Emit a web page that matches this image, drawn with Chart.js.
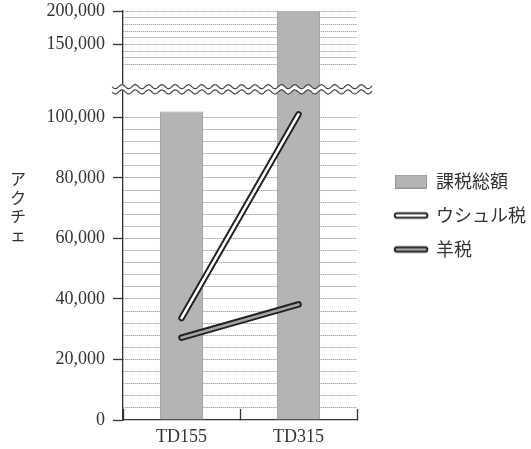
<!DOCTYPE html>
<html><head><meta charset="utf-8">
<script src="https://cdn.jsdelivr.net/npm/chart.js@4/dist/chart.umd.min.js"></script>
<style>html,body{margin:0;padding:0;background:#fff}canvas{display:block}</style>
</head><body>
<canvas id="c" width="531" height="449"></canvas>
<script>
// ---- data ----
const categories = ['TD155', 'TD315'];
const totalTax = [102000, 200000];   // 課税総額
const ushrTax = [33700, 101000];     // ウシュル税
const sheepTax = [27200, 38200];     // 羊税
const seriesNames = ['課税総額', 'ウシュル税', '羊税'];
const lowerTickLabels = [0, 20000, 40000, 60000, 80000, 100000];
const upperTickLabels = [150000, 200000];
const yTitle = 'アクチェ';

// ---- axis layout ----
const LOWER_MAX = 109300, UPPER_MIN = 82600, UPPER_MAX = 200000;
const LOWER_GRID_STEP = 4000, LOWER_GRID_END = 100000;
const UPPER_GRID_STEP = 10000, UPPER_GRID_START = 120000;

const SERIF = '"Liberation Serif", "DejaVu Serif", serif';
const CJK = '"Noto Sans CJK JP", sans-serif';
const INK = '#333';
const BAR_FILL = '#b4b4b4', BAR_EDGE = '#969696';
const SHEEP_INNER = '#a4a4a4';

function fmt(v) { return String(v).replace(/\B(?=(\d{3})+(?!\d))/g, ','); }
function range(a, b, s) { const r = []; for (let v = a; v <= b + 1e-6; v += s) r.push(v); return r; }

function lineSwatch(inner) {
  const c = document.createElement('canvas'); c.width = 38; c.height = 10;
  const g = c.getContext('2d'); g.lineCap = 'round';
  g.strokeStyle = '#222'; g.lineWidth = 6.5; g.beginPath(); g.moveTo(5, 5); g.lineTo(33, 5); g.stroke();
  g.strokeStyle = inner; g.lineWidth = 2.6; g.beginPath(); g.moveTo(5, 5); g.lineTo(33, 5); g.stroke();
  return c;
}
function barSwatch() {
  const c = document.createElement('canvas'); c.width = 32; c.height = 14;
  const g = c.getContext('2d'); g.fillStyle = BAR_FILL; g.fillRect(0, 0, 32, 14);
  g.strokeStyle = BAR_EDGE; g.lineWidth = 1; g.strokeRect(0.5, 0.5, 31, 13);
  return c;
}

// let the right-hand legend keep its natural width
const legendWidth = {
  id: 'legendWidth',
  beforeLayout(chart) {
    const lg = chart.legend;
    if (!lg || lg._wPatched) return;
    const orig = lg.fit.bind(lg);
    lg.fit = function () {
      orig();
      const pad = this.options.labels.padding;
      if (this.columnSizes && this.columnSizes.length) {
        this.width = pad + this.columnSizes.reduce((s, c) => s + c.width, 0) + 10;
      }
    };
    lg._wPatched = true;
  }
};

const clipBars = {
  id: 'clipBars',
  beforeDatasetDraw(chart, args) {
    if (args.meta.type !== 'bar') return;
    const a = chart.chartArea, ctx = chart.ctx;
    ctx.save(); ctx.beginPath(); ctx.rect(a.left, a.top, a.right - a.left, a.bottom - a.top); ctx.clip();
  },
  afterDatasetDraw(chart, args) {
    if (args.meta.type !== 'bar') return;
    chart.ctx.restore();
  }
};

const breakMark = {
  id: 'breakMark',
  afterDatasetsDraw(chart) {
    const ctx = chart.ctx, yb = chart.scales.y.top, a = chart.chartArea;
    const x0 = a.left - 11, x1 = a.right + 15, amp = 2, per = 13.3, gap = 2.6;
    const f = (x, off) => yb + off + amp * Math.sin((x - x0) / per * 2 * Math.PI);
    ctx.save();
    ctx.beginPath();
    for (let x = x0; x <= x1; x += 0.5) { const y = f(x, -gap); x === x0 ? ctx.moveTo(x, y) : ctx.lineTo(x, y); }
    for (let x = x1; x >= x0; x -= 0.5) ctx.lineTo(x, f(x, gap));
    ctx.closePath(); ctx.fillStyle = '#fff'; ctx.fill();
    ctx.strokeStyle = '#444'; ctx.lineWidth = 1.2;
    for (const off of [-gap, gap]) {
      ctx.beginPath();
      for (let x = x0; x <= x1; x += 0.5) { const y = f(x, off); x === x0 ? ctx.moveTo(x, y) : ctx.lineTo(x, y); }
      ctx.stroke();
    }
    ctx.restore();
  }
};

const verticalTitle = {
  id: 'verticalTitle',
  afterDraw(chart) {
    const ctx = chart.ctx;
    ctx.save();
    ctx.font = '16px ' + CJK; ctx.fillStyle = INK; ctx.textAlign = 'center'; ctx.textBaseline = 'middle';
    [...yTitle].forEach((ch, i) => ctx.fillText(ch, 18, 179 + i * 18.5));
    ctx.restore();
  }
};

const hidden = 'rgba(0,0,0,0)';
const tickFont = { family: SERIF, size: 18 };

new Chart(document.getElementById('c'), {
  type: 'bar',
  data: {
    labels: categories,
    datasets: [
      { type: 'line', label: seriesNames[1], data: ushrTax, yAxisID: 'y', borderColor: '#ffffff', borderWidth: 2.6,
        borderCapStyle: 'round', pointRadius: 0, fill: false, order: 0 },
      { type: 'line', label: seriesNames[2], data: sheepTax, yAxisID: 'y', borderColor: SHEEP_INNER, borderWidth: 2.6,
        borderCapStyle: 'round', pointRadius: 0, fill: false, order: 0 },
      { type: 'line', label: seriesNames[1] + ' outline', data: ushrTax, yAxisID: 'y', borderColor: '#222', borderWidth: 6.5,
        borderCapStyle: 'round', pointRadius: 0, fill: false, order: 1 },
      { type: 'line', label: seriesNames[2] + ' outline', data: sheepTax, yAxisID: 'y', borderColor: '#222', borderWidth: 6.5,
        borderCapStyle: 'round', pointRadius: 0, fill: false, order: 1 },
      { type: 'bar', label: seriesNames[0], data: totalTax, yAxisID: 'y', backgroundColor: BAR_FILL, borderColor: BAR_EDGE,
        borderWidth: 1, categoryPercentage: 1, barPercentage: 0.37, clip: false, order: 2 }
    ]
  },
  options: {
    responsive: false,
    animation: false,
    layout: { padding: { top: 0, right: -5, bottom: 0, left: 0 } },
    plugins: {
      tooltip: { enabled: false },
      legend: {
        position: 'right', fullSize: false, align: 'center',
        labels: {
          usePointStyle: true, pointStyleWidth: 32, padding: 16,
          font: { family: CJK, size: 18 }, color: INK,
          generateLabels: () => [
            { text: seriesNames[0], pointStyle: barSwatch(), fontColor: INK, datasetIndex: 4 },
            { text: seriesNames[1], pointStyle: lineSwatch('#ffffff'), fontColor: INK, datasetIndex: 0 },
            { text: seriesNames[2], pointStyle: lineSwatch(SHEEP_INNER), fontColor: INK, datasetIndex: 1 }
          ]
        }
      }
    },
    scales: {
      x: {
        type: 'category', offset: true,
        grid: { offset: true, drawOnChartArea: false, drawTicks: true, tickLength: -11, tickColor: INK, tickWidth: 1.3, color: INK },
        border: { color: INK, width: 1.3 },
        ticks: { font: tickFont, color: INK, padding: 17 },
        afterFit: s => { s.height = 29; }
      },
      y: {
        type: 'linear', position: 'left', stack: 'v', stackWeight: 330.7, weight: 0,
        min: 0, max: LOWER_MAX,
        afterBuildTicks: s => { s.ticks = range(0, LOWER_GRID_END, LOWER_GRID_STEP).map(v => ({ value: v })); },
        afterFit: s => { s.width = 123; s.paddingTop = 0; s.paddingBottom = 0; },
        grid: {
          color: c => (c.tick && c.tick.value > 0 && c.tick.value <= LOWER_GRID_END) ? '#858585' : hidden,
          tickColor: c => (c.tick && lowerTickLabels.includes(c.tick.value)) ? INK : hidden,
          tickLength: 10, tickWidth: 1.3, lineWidth: 1
        },
        border: { color: INK, width: 1.3, dash: [1, 1] },
        ticks: { autoSkip: false, font: tickFont, color: INK, padding: 8,
          callback: v => lowerTickLabels.includes(v) ? fmt(v) : '' }
      },
      y2: {
        type: 'linear', position: 'left', stack: 'v', stackWeight: 78.3, weight: 1, display: true,
        min: UPPER_MIN, max: UPPER_MAX,
        afterBuildTicks: s => { s.ticks = range(UPPER_GRID_START, UPPER_MAX, UPPER_GRID_STEP).map(v => ({ value: v })); },
        afterFit: s => { s.width = 123; s.paddingTop = 11; s.paddingBottom = 0; },
        grid: {
          color: '#858585',
          tickColor: c => (c.tick && upperTickLabels.includes(c.tick.value)) ? INK : hidden,
          tickLength: 10, tickWidth: 1.3, lineWidth: 1
        },
        border: { color: INK, width: 1.3, dash: [1, 1] },
        ticks: { autoSkip: false, font: tickFont, color: INK, padding: 8,
          callback: v => upperTickLabels.includes(v) ? fmt(v) : '' }
      },
      yR: {
        type: 'linear', position: 'right', display: true, min: 0, max: 1,
        grid: { display: false, drawTicks: false }, border: { display: false }, ticks: { display: false },
        afterFit: s => { s.width = 22; s.paddingTop = 0; s.paddingBottom = 0; }
      }
    }
  },
  plugins: [legendWidth, clipBars, breakMark, verticalTitle]
});
</script>
</body></html>
